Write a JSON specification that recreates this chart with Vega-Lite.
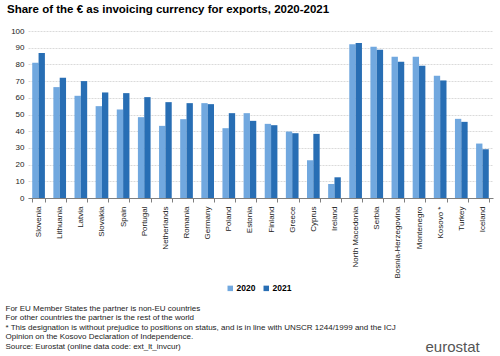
{
  "$schema": "https://vega.github.io/schema/vega-lite/v6.json",
  "width": 465,
  "height": 167,
  "autosize": {"type": "none"},
  "padding": {"left": 28, "top": 31, "right": 7, "bottom": 158},
  "background": "white",
  "config": {
    "font": "Liberation Sans",
    "view": {"stroke": null}
  },
  "title": {
    "text": "Share of the € as invoicing currency for exports, 2020-2021",
    "anchor": "start",
    "frame": "group",
    "dx": -21,
    "offset": 12,
    "fontSize": 11.5,
    "fontWeight": "bold",
    "color": "#000000"
  },
  "data": {
    "values": [
      {"country": "Slovenia", "year": "2020", "value": 81},
      {"country": "Slovenia", "year": "2021", "value": 86.8},
      {"country": "Lithuania", "year": "2020", "value": 66.4},
      {"country": "Lithuania", "year": "2021", "value": 72},
      {"country": "Latvia", "year": "2020", "value": 61.2},
      {"country": "Latvia", "year": "2021", "value": 70},
      {"country": "Slovakia", "year": "2020", "value": 55},
      {"country": "Slovakia", "year": "2021", "value": 63.2},
      {"country": "Spain", "year": "2020", "value": 53},
      {"country": "Spain", "year": "2021", "value": 62.8},
      {"country": "Portugal", "year": "2020", "value": 48.4},
      {"country": "Portugal", "year": "2021", "value": 60.4},
      {"country": "Netherlands", "year": "2020", "value": 43.2},
      {"country": "Netherlands", "year": "2021", "value": 57.4},
      {"country": "Romania", "year": "2020", "value": 47.2},
      {"country": "Romania", "year": "2021", "value": 56.8},
      {"country": "Germany", "year": "2020", "value": 56.8},
      {"country": "Germany", "year": "2021", "value": 56.2},
      {"country": "Poland", "year": "2020", "value": 41.8},
      {"country": "Poland", "year": "2021", "value": 50.8},
      {"country": "Estonia", "year": "2020", "value": 50.8},
      {"country": "Estonia", "year": "2021", "value": 46.2},
      {"country": "Finland", "year": "2020", "value": 44.4},
      {"country": "Finland", "year": "2021", "value": 43.6},
      {"country": "Greece", "year": "2020", "value": 39.8},
      {"country": "Greece", "year": "2021", "value": 38.8},
      {"country": "Cyprus", "year": "2020", "value": 22.6},
      {"country": "Cyprus", "year": "2021", "value": 38.4},
      {"country": "Ireland", "year": "2020", "value": 8.4},
      {"country": "Ireland", "year": "2021", "value": 12.4},
      {"country": " ", "year": "2020", "value": null},
      {"country": " ", "year": "2021", "value": null},
      {"country": "North Macedonia", "year": "2020", "value": 92},
      {"country": "North Macedonia", "year": "2021", "value": 92.8},
      {"country": "Serbia", "year": "2020", "value": 90.6},
      {"country": "Serbia", "year": "2021", "value": 88.8},
      {"country": "Bosnia-Herzegovina", "year": "2020", "value": 84.6},
      {"country": "Bosnia-Herzegovina", "year": "2021", "value": 81.6},
      {"country": "Montenegro", "year": "2020", "value": 84.6},
      {"country": "Montenegro", "year": "2021", "value": 79.2},
      {"country": "Kosovo *", "year": "2020", "value": 73.2},
      {"country": "Kosovo *", "year": "2021", "value": 70.4},
      {"country": "Turkey", "year": "2020", "value": 47.4},
      {"country": "Turkey", "year": "2021", "value": 45.6},
      {"country": "Iceland", "year": "2020", "value": 32.6},
      {"country": "Iceland", "year": "2021", "value": 29.2}
    ]
  },
  "mark": {"type": "bar"},
  "encoding": {
    "x": {
      "field": "country",
      "type": "nominal",
      "sort": null,
      "scale": {"paddingInner": 0.4, "paddingOuter": 0.2},
      "axis": {
        "labelAngle": -90,
        "labelFontSize": 8,
        "labelColor": "#222222",
        "labelPadding": 4,
        "tickBand": "extent",
        "ticks": true,
        "tickSize": 4,
        "tickColor": "#7f7f7f",
        "domainColor": "#7f7f7f",
        "grid": false,
        "title": [
          "For EU Member States the partner is non-EU countries",
          "For other countries the partner is the rest of the world",
          "* This designation is without prejudice to positions on status, and is in line with UNSCR 1244/1999 and the ICJ",
          "Opinion on the Kosovo Declaration of Independence.",
          "Source: Eurostat (online data code: ext_lt_invcur)"
        ],
        "titleFontSize": 8,
        "titleFontWeight": "normal",
        "titleColor": "#222222",
        "titleAngle": 0,
        "titleAlign": "left",
        "titleBaseline": "top",
        "titleLineHeight": 9.6,
        "titleX": -23,
        "titleY": 106
      }
    },
    "xOffset": {"field": "year", "type": "nominal"},
    "y": {
      "field": "value",
      "type": "quantitative",
      "scale": {"domain": [0, 100]},
      "axis": {
        "values": [0, 10, 20, 30, 40, 50, 60, 70, 80, 90, 100],
        "domain": false,
        "ticks": false,
        "labelFontSize": 8,
        "labelColor": "#222222",
        "labelPadding": 4,
        "gridColor": "#d0d0d0",
        "gridDash": [2, 1],
        "gridWidth": 0.8,
        "title": "eurostat",
        "titleAngle": 0,
        "titleFontSize": 15,
        "titleFontWeight": "normal",
        "titleColor": "#555555",
        "titleAlign": "left",
        "titleBaseline": "alphabetic",
        "titleX": 397,
        "titleY": 320
      }
    },
    "color": {
      "field": "year",
      "type": "nominal",
      "scale": {"domain": ["2020", "2021"], "range": ["#71a8df", "#286eb4"]},
      "legend": {
        "title": null,
        "orient": "none",
        "direction": "horizontal",
        "legendX": 198,
        "legendY": 253,
        "symbolType": "square",
        "symbolSize": 30,
        "symbolStrokeWidth": 0,
        "labelFontSize": 8.5,
        "labelFontWeight": "bold",
        "labelColor": "#000000",
        "labelOffset": 2,
        "columnPadding": 6
      }
    }
  }
}
